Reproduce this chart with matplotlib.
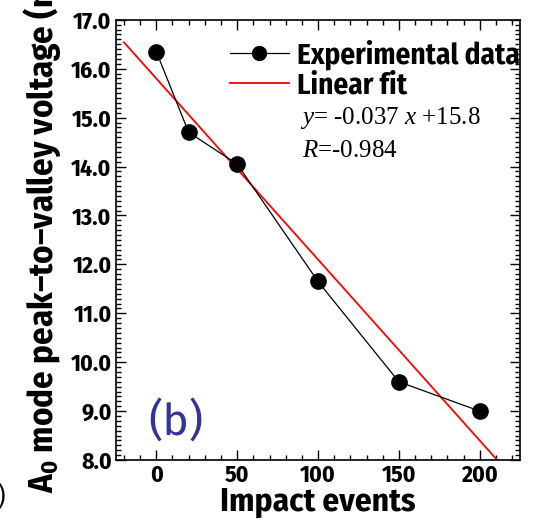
import matplotlib
matplotlib.use("Agg")
import matplotlib.pyplot as plt
import numpy as np
from matplotlib.ticker import MultipleLocator, FormatStrFormatter
from matplotlib.lines import Line2D

SANS = 'Fira Sans Condensed'
plt.rcParams['font.family'] = [SANS, 'DejaVu Sans']
plt.rcParams['mathtext.fontset'] = 'custom'
plt.rcParams['mathtext.rm'] = 'Liberation Serif'
plt.rcParams['mathtext.it'] = 'Liberation Serif:italic'
plt.rcParams['mathtext.bf'] = SANS + ':bold'

impacts = [0, 20, 50, 100, 150, 200]
voltage = [16.35, 14.7, 14.05, 11.65, 9.6, 9.0]
slope = -0.037
intercept = 15.8
r_value = -0.984
fit_x = [-20, 211]
fit_y = [slope * v + intercept for v in fit_x]

fig = plt.figure(figsize=(5.39, 5.21), dpi=100)
ax = fig.add_axes([0.215, 0.117, 0.75, 0.845])

ax.plot(fit_x, fit_y, color='#ff0000', lw=1.3, zorder=2)
ax.plot(impacts, voltage, color='black', lw=0.9, marker='o', ms=11, zorder=3)

ax.set_xlim(-25, 225)
ax.set_ylim(8.0, 17.0)
ax.xaxis.set_major_locator(MultipleLocator(50))
ax.xaxis.set_minor_locator(MultipleLocator(10))
ax.yaxis.set_major_locator(MultipleLocator(1.0))
ax.yaxis.set_minor_locator(MultipleLocator(0.1))
ax.yaxis.set_major_formatter(FormatStrFormatter('%.1f'))
ax.tick_params(which='both', direction='in', top=True, right=True, width=1.0)
ax.tick_params(which='major', length=7, labelsize=17, pad=3)
ax.tick_params(which='minor', length=3.5)
for lab in ax.get_xticklabels() + ax.get_yticklabels():
    lab.set_fontweight('bold')
for s in ax.spines.values():
    s.set_linewidth(1.2)

ax.set_xlabel('Impact events', fontsize=24, fontweight='bold', labelpad=-1)
fig.text(0.078, 0.054, r'$\mathbf{A_0}$ mode peak–to–valley voltage (mV)',
         rotation=90, ha='center', va='bottom', fontsize=25, fontweight='bold')

handles = [Line2D([], [], color='black', lw=0.9, marker='o', ms=10),
           Line2D([], [], color='#ff0000', lw=1.3)]
leg = ax.legend(handles, ['Experimental data', 'Linear fit'], loc='upper left',
                bbox_to_anchor=(0.283, 0.955), frameon=False,
                prop={'weight': 'bold', 'size': 21}, handlelength=2.0,
                handletextpad=0.3, borderpad=0, borderaxespad=0, labelspacing=0.05)
leg.set_clip_on(False)

ax.text(0.455, 0.778, r'$y$= -0.037 $x$ +15.8', transform=ax.transAxes,
        fontsize=18, family='Liberation Serif', va='center', ha='left')
ax.text(0.46, 0.703, r'$R$=-0.984', transform=ax.transAxes,
        fontsize=18, family='Liberation Serif', va='center', ha='left')

ax.text(-5, 8.76, '(b)', color='#333399', fontsize=32, ha='left', va='center',
        family=['Fira Sans', 'Open Sans'])

fig.text(-0.005, 0.045, ')', fontsize=18, ha='left', va='center')

fig.savefig('out.png', dpi=100)
